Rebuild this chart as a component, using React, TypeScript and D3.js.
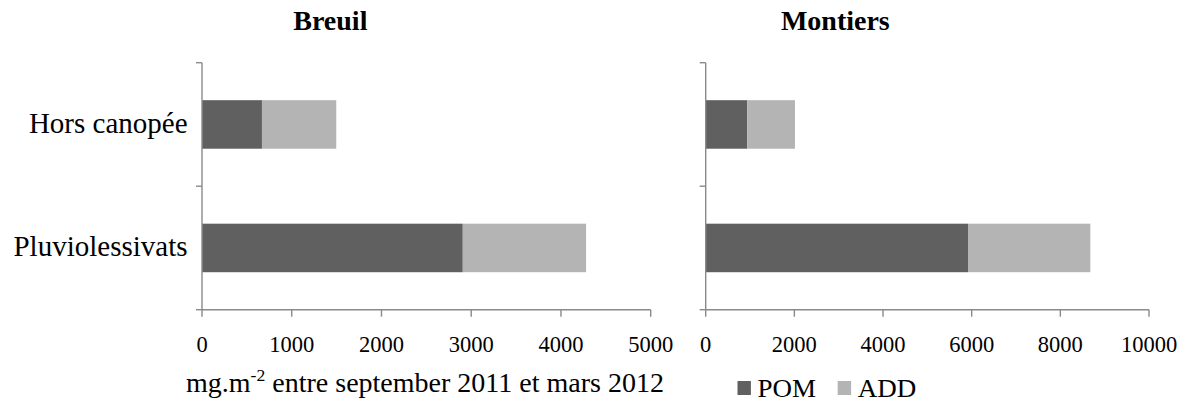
import React from "react";
import * as d3 from "d3";

const categories = ["Hors canopée", "Pluviolessivats"];
const seriesNames = ["POM", "ADD"];
const breuilPOM = [668, 2906];
const breuilADD = [828, 1374];
const montiersPOM = [938, 5917];
const montiersADD = [1076, 2759];
const breuilTicks = [0, 1000, 2000, 3000, 4000, 5000];
const montiersTicks = [0, 2000, 4000, 6000, 8000, 10000];

const COLORS = ["#606060", "#b4b4b4"];
const AXIS = "#8a8a8a";
const FONT = "'Liberation Serif', 'Times New Roman', serif";

const W = 1189;
const H = 403;

interface PanelProps {
  title: string;
  pom: number[];
  add: number[];
  ticks: number[];
  x0: number;
  x1: number;
  showCats: boolean;
}

function Panel({ title, pom, add, ticks, x0, x1, showCats }: PanelProps) {
  const top = 62.7;
  const bottom = 309.7;
  const x = d3.scaleLinear().domain([ticks[0], ticks[ticks.length - 1]]).range([x0, x1]);
  const y = d3
    .scaleBand<string>()
    .domain(categories)
    .range([top, bottom])
    .paddingInner(0.607)
    .paddingOuter(0.3035);
  const step = y.step();
  const boundaries = d3.range(categories.length + 1).map((i) => top + i * step);
  const stack = categories.map((c, i) => [
    { s: 0, v: pom[i], c: COLORS[0] },
    { s: pom[i], v: pom[i] + add[i], c: COLORS[1] },
  ]);
  return (
    <g>
      <text
        x={(x0 + x1) / 2 + (showCats ? -96 : -92)}
        y={30}
        textAnchor="middle"
        fontFamily={FONT}
        fontWeight="bold"
        fontSize={28}
        fill="#000"
      >
        {title}
      </text>
      {stack.map((segs, i) =>
        segs.map((sg, j) => (
          <rect
            key={`${i}-${j}`}
            x={x(sg.s)}
            y={y(categories[i])!}
            width={x(sg.v) - x(sg.s)}
            height={y.bandwidth()}
            fill={sg.c}
          />
        ))
      )}
      {/* y axis */}
      <line x1={x0} x2={x0} y1={top} y2={bottom} stroke={AXIS} strokeWidth={1.4} />
      {boundaries.map((b, i) => (
        <line key={i} x1={x0 - 6} x2={x0} y1={b} y2={b} stroke={AXIS} strokeWidth={1.4} />
      ))}
      {/* x axis */}
      <line x1={x0} x2={x1} y1={bottom} y2={bottom} stroke={AXIS} strokeWidth={1.4} />
      {ticks.map((t) => (
        <g key={t}>
          <line x1={x(t)} x2={x(t)} y1={bottom} y2={bottom + 7} stroke={AXIS} strokeWidth={1.4} />
          <text
            x={x(t)}
            y={351.5}
            textAnchor="middle"
            fontFamily={FONT}
            fontSize={22.5}
            fill="#000"
          >
            {t}
          </text>
        </g>
      ))}
      {showCats &&
        categories.map((c) => (
          <text
            key={c}
            x={187.5}
            y={y(c)! + y.bandwidth() / 2 + 8.5}
            textAnchor="end"
            fontFamily={FONT}
            fontSize={29}
            fill="#000"
          >
            {c}
          </text>
        ))}
    </g>
  );
}

export default function App() {
  return (
    <svg
      width={W}
      height={H}
      style={{ position: "absolute", left: 0, top: 0, background: "#fff" }}
    >
      <rect width={W} height={H} fill="#fff" />
      <Panel
        title="Breuil"
        pom={breuilPOM}
        add={breuilADD}
        ticks={breuilTicks}
        x0={202}
        x1={650.7}
        showCats={true}
      />
      <Panel
        title="Montiers"
        pom={montiersPOM}
        add={montiersADD}
        ticks={montiersTicks}
        x0={705.7}
        x1={1149}
        showCats={false}
      />
      <text
        x={186}
        y={391.7}
        fontFamily={FONT}
        fontSize={27}
        fill="#000"
        textLength={478}
        lengthAdjust="spacingAndGlyphs"
      >
        mg.m
        <tspan dy={-11} fontSize={17}>-2</tspan>
        <tspan dy={11}> entre september 2011 et mars 2012</tspan>
      </text>
      {seriesNames.map((s, i) => {
        const lx = [737.5, 837.7][i];
        return (
          <g key={s}>
            <rect x={lx} y={381} width={13.4} height={14} fill={COLORS[i]} />
            <text
              x={lx + 20}
              y={396.7}
              fontFamily={FONT}
              fontSize={25}
              fill="#000"
              textLength={58.5}
              lengthAdjust="spacingAndGlyphs"
            >
              {s}
            </text>
          </g>
        );
      })}
    </svg>
  );
}
